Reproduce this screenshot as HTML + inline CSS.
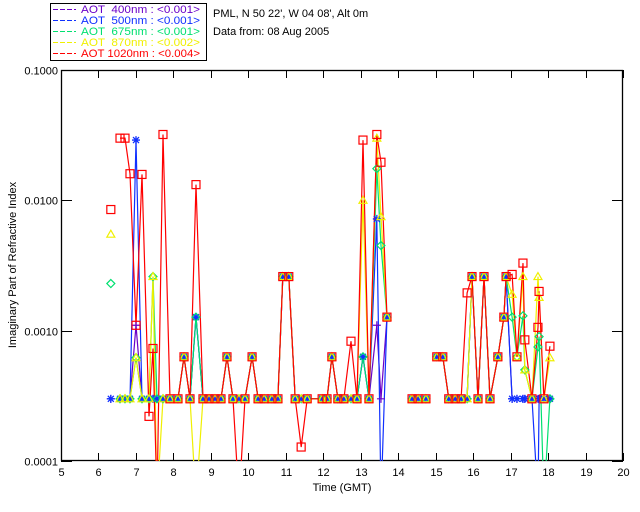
<!DOCTYPE html>
<html><head><meta charset="utf-8"><style>
body{margin:0;background:#fff;}
svg{display:block;font-family:"Liberation Sans","DejaVu Sans",sans-serif;}
.pre{white-space:pre;}
</style></head><body>
<svg id="chart" width="640" height="512" viewBox="0 0 640 512">
<defs><clipPath id="plotclip"><rect x="61" y="70" width="562" height="391"/></clipPath></defs>
<rect x="0" y="0" width="640" height="512" fill="#fff"/>
<g id="legend">
<rect x="50.5" y="3.5" width="156" height="57" fill="#fff" stroke="#000"/>
</g>
<text x="213" y="17" font-size="11" fill="#000">PML, N 50 22', W 04 08', Alt 0m</text>
<text x="213" y="35" font-size="11" fill="#000">Data from: 08 Aug 2005</text>
<g id="axes"></g>
<g id="lines" clip-path="url(#plotclip)"></g>
<g id="marks" clip-path="url(#plotclip)"></g>
<text x="342" y="491" font-size="11" text-anchor="middle">Time (GMT)</text>
<text transform="translate(16,265) rotate(-90)" font-size="11" text-anchor="middle">Imaginary Part of Refractive Index</text>
</svg>
<script>
const times=[6.33,6.575,6.708,6.841,7.002,7.162,7.349,7.455,7.562,7.722,7.909,8.122,8.283,8.443,8.603,8.79,8.95,9.11,9.27,9.43,9.59,9.75,9.91,10.10,10.26,10.42,10.63,10.79,10.92,11.08,11.25,11.41,11.57,11.97,12.10,12.23,12.39,12.55,12.74,12.90,13.06,13.22,13.43,13.54,13.70,14.37,14.53,14.74,15.03,15.19,15.35,15.52,15.68,15.84,15.97,16.13,16.29,16.45,16.66,16.82,16.88,17.04,17.17,17.33,17.38,17.57,17.73,17.76,17.89,18.05];
const breaksAfter=[0,44,47];
const red=[0.0085,0.030,0.030,0.016,0.0011,0.0158,0.00022,0.00073,0.00005,0.032,0.0003,0.0003,0.00063,0.0003,0.0132,0.0003,0.0003,0.0003,0.0003,0.00063,0.0003,0.00005,0.0003,0.00063,0.0003,0.0003,0.0003,0.0003,0.0026,0.0026,0.0003,0.000128,0.0003,0.0003,0.0003,0.00063,0.0003,0.0003,0.00083,0.0003,0.029,0.0003,0.032,0.0196,0.00127,0.0003,0.0003,0.0003,0.00063,0.00063,0.0003,0.0003,0.0003,0.00195,0.0026,0.0003,0.0026,0.0003,0.00063,0.00127,0.0026,0.0027,0.00063,0.0033,0.00085,0.0003,0.00106,0.002,0.0003,0.00076];
const yellow=[0.0055,0.0003,0.0003,0.0003,0.00062,0.0003,0.0003,0.0026,0.00005,0.0003,0.0003,0.0003,0.00063,0.0003,0.00005,0.0003,0.0003,0.0003,0.0003,0.00063,0.0003,0.0003,0.0003,0.00063,0.0003,0.0003,0.0003,0.0003,0.0026,0.0026,0.0003,0.0003,0.0003,0.0003,0.0003,0.00063,0.0003,0.0003,0.0003,0.0003,0.0100,0.0003,0.030,0.0075,0.00127,0.0003,0.0003,0.0003,0.00063,0.00063,0.0003,0.0003,0.0003,0.0003,0.0026,0.0003,0.0026,0.0003,0.00063,0.00127,0.0026,0.0019,0.00063,0.0026,0.0005,0.0003,0.0026,0.0018,0.0003,0.00062];
const green=[0.0023,0.0003,0.0003,0.0003,0.00062,0.0003,0.0003,0.0026,0.0003,0.0003,0.0003,0.0003,0.00063,0.0003,0.00127,0.0003,0.0003,0.0003,0.0003,0.00063,0.0003,0.0003,0.0003,0.00063,0.0003,0.0003,0.0003,0.0003,0.0026,0.0026,0.0003,0.0003,0.0003,0.0003,0.0003,0.00063,0.0003,0.0003,0.0003,0.0003,0.00063,0.0003,0.0175,0.0045,0.00127,0.0003,0.0003,0.0003,0.00063,0.00063,0.0003,0.0003,0.0003,0.0003,0.0026,0.0003,0.0026,0.0003,0.00063,0.00127,0.0026,0.00127,0.00063,0.0013,0.0005,0.0003,0.00075,0.0009,0.00005,0.0003];
const blue=[0.0003,0.0003,0.0003,0.0003,0.029,0.0003,0.0003,0.0003,0.0003,0.0003,0.0003,0.0003,0.00063,0.0003,0.00127,0.0003,0.0003,0.0003,0.0003,0.00063,0.0003,0.0003,0.0003,0.00063,0.0003,0.0003,0.0003,0.0003,0.0026,0.0026,0.0003,0.0003,0.0003,0.0003,0.0003,0.00063,0.0003,0.0003,0.0003,0.0003,0.00063,0.0003,0.0072,0.00005,0.00127,0.0003,0.0003,0.0003,0.00063,0.00063,0.0003,0.0003,0.0003,0.0003,0.0026,0.0003,0.0026,0.0003,0.00063,0.00127,0.0026,0.0003,0.0003,0.0003,0.0003,0.0003,0.00005,0.0003,0.0003,0.0003];
const purple=[0.0003,0.0003,0.0003,0.0003,0.0011,0.0003,0.0003,0.0003,0.0003,0.0003,0.0003,0.0003,0.00063,0.0003,0.00127,0.0003,0.0003,0.0003,0.0003,0.00063,0.0003,0.0003,0.0003,0.00063,0.0003,0.0003,0.0003,0.0003,0.0026,0.0026,0.0003,0.0003,0.0003,0.0003,0.0003,0.00063,0.0003,0.0003,0.0003,0.0003,0.00063,0.0003,0.0011,0.0003,0.00127,0.0003,0.0003,0.0003,0.00063,0.00063,0.0003,0.0003,0.0003,0.0003,0.0026,0.0003,0.0026,0.0003,0.00063,0.00127,0.0026,0.0003,0.0003,0.0003,0.0003,0.0003,0.0003,0.0003,0.0003,0.0003];
const xTicks=[5,6,7,8,9,10,11,12,13,14,15,16,17,18,19,20];
const yTicks=[0.1,0.01,0.001,0.0001];
const yTickLabels=["0.1000","0.0100","0.0010","0.0001"];
const legendLabels=["AOT  400nm : <0.001>","AOT  500nm : <0.001>","AOT  675nm : <0.001>","AOT  870nm : <0.002>","AOT 1020nm : <0.004>"];

const NS="http://www.w3.org/2000/svg";
const X0=61,X1=623,Y0=70,Y1=461;
function xs(t){return X0+(t-5)/15*(X1-X0);}
function ys(v){return Y1-(Math.log10(v)+4)/3*(Y1-Y0);}
function mk(tag,attrs,parent){const e=document.createElementNS(NS,tag);for(const k in attrs)e.setAttribute(k,attrs[k]);parent.appendChild(e);return e;}
const axes=document.getElementById('axes');
let box=mk('rect',{x:X0+0.5,y:Y0+0.5,width:X1-X0-1,height:Y1-Y0-1,fill:'none',stroke:'#000','stroke-width':1.3},axes);


xTicks.forEach(t=>{
  const x=Math.round(xs(t))+0.5;
  let l=mk('line',{x1:x,x2:x,y1:Y1,y2:Y1-8,stroke:'#000'},axes);
  
  
  let l2=mk('line',{x1:x,x2:x,y1:Y0,y2:Y0+8,stroke:'#000'},axes);
  
  
  let tx=mk('text',{x:x,y:Y1+15,'font-size':11,'text-anchor':'middle'},axes);
  tx.textContent=t;
  
  
});
yTicks.forEach((v,i)=>{
  const y=Math.round(ys(v))+0.5;
  let l=mk('line',{x1:X0,x2:X0+11,y1:y,y2:y,stroke:'#000'},axes);
  
  
  let l2=mk('line',{x1:X1-11,x2:X1,y1:y,y2:y,stroke:'#000'},axes);
  
  
  let tx=mk('text',{x:X0-3,y:y+4,'font-size':11,'text-anchor':'end'},axes);
  tx.textContent=yTickLabels[i];
  
  
});
const series=[
 {vals:purple,color:'#6a00c8',m:'plus',name:'aot-400'},
 {vals:blue,color:'#1030ff',m:'star',name:'aot-500'},
 {vals:green,color:'#00e070',m:'diamond',name:'aot-675'},
 {vals:yellow,color:'#f0f000',m:'triangle',name:'aot-870'},
 {vals:red,color:'#ff0000',m:'square',name:'aot-1020'}
];
const lineG=document.getElementById('lines'),markG=document.getElementById('marks');
series.forEach(s=>{
  let d='';let start=true;
  times.forEach((t,i)=>{
    d+=(start?'M':'L')+xs(t).toFixed(1)+','+ys(s.vals[i]).toFixed(1);
    start=breaksAfter.indexOf(i)>=0;
  });
  let p=mk('path',{d:d,fill:'none',stroke:s.color,'stroke-width':1.2},lineG);
  
  
});
series.forEach(s=>{
  times.forEach((t,i)=>{
    const x=xs(t),y=ys(s.vals[i]);let e;
    if(s.m==='square')e=mk('rect',{x:x-4,y:y-4,width:8,height:8,fill:'none',stroke:s.color,'stroke-width':1.2},markG);
    else if(s.m==='triangle')e=mk('path',{d:`M${x-4},${y+3}L${x},${y-4}L${x+4},${y+3}Z`,fill:'none',stroke:s.color,'stroke-width':1.2},markG);
    else if(s.m==='diamond')e=mk('path',{d:`M${x},${y-4}L${x+4},${y}L${x},${y+4}L${x-4},${y}Z`,fill:'none',stroke:s.color,'stroke-width':1.2},markG);
    else if(s.m==='star')e=mk('path',{d:`M${x-4},${y}H${x+4}M${x},${y-4}V${y+4}M${x-3},${y-3}L${x+3},${y+3}M${x-3},${y+3}L${x+3},${y-3}`,stroke:s.color,'stroke-width':1.3},markG);
    else e=mk('path',{d:`M${x-4},${y}H${x+4}M${x},${y-4}V${y+4}`,stroke:s.color,'stroke-width':1.2},markG);
    
    
  });
});
const leg=document.getElementById('legend');
series.forEach((s,i)=>{
  const y=13+i*11;
  let l=mk('line',{x1:53,x2:76,y1:y-3.5,y2:y-3.5,stroke:s.color,'stroke-dasharray':'5,2'},leg);
  
  
  let tx=mk('text',{x:81,y:y,'font-size':11,fill:s.color,'class':'pre',textLength:119,lengthAdjust:'spacingAndGlyphs'},leg);
  tx.textContent=legendLabels[i];
  
  
});
</script>
</body></html>
